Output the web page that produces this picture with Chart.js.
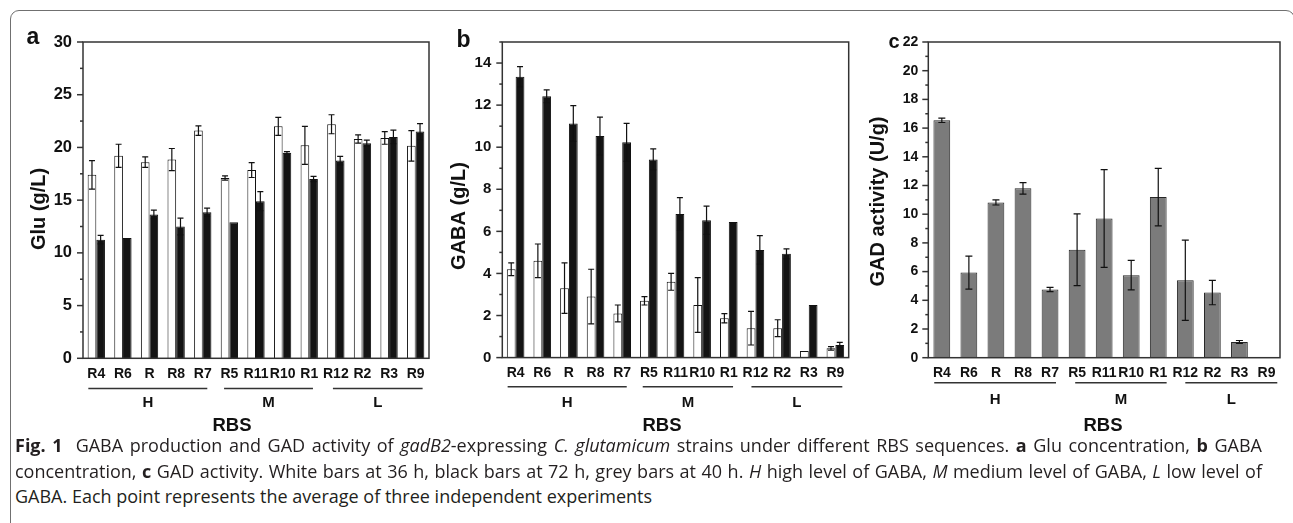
<!DOCTYPE html>
<html><head><meta charset="utf-8">
<script src="https://cdn.jsdelivr.net/npm/chart.js@4.4.0/dist/chart.umd.min.js"></script>
<style>
html,body{margin:0;padding:0;background:#fff;width:1293px;height:523px;overflow:hidden;position:relative;}
.frame{position:absolute;left:10px;top:10px;width:1285px;height:600px;border:1.5px solid #707070;border-radius:9px;box-sizing:border-box;}
.pane{position:absolute;top:0;}
.cap{position:absolute;left:15px;font-family:"Open Sans",sans-serif;font-size:18px;line-height:25px;color:#231f20;white-space:nowrap;}
.just{width:1247px;text-align:justify;text-align-last:justify;}
</style></head>
<body>
<div class="frame"></div>
<canvas id="ca" class="pane" style="left:0px" width="440" height="440"></canvas>
<canvas id="cb" class="pane" style="left:430px" width="430" height="440"></canvas>
<canvas id="cc" class="pane" style="left:860px" width="433" height="440"></canvas>
<div class="cap just" style="top:433px"><b>Fig. 1</b>&nbsp; GABA production and GAD activity of <i>gadB2</i>-expressing <i>C. glutamicum</i> strains under different RBS sequences. <b>a</b> Glu concentration, <b>b</b> GABA</div>
<div class="cap just" style="top:458.5px">concentration, <b>c</b> GAD activity. White bars at 36 h, black bars at 72 h, grey bars at 40 h. <i>H</i> high level of GABA, <i>M</i> medium level of GABA, <i>L</i> low level of</div>
<div class="cap" style="top:484px">GABA. Each point represents the average of three independent experiments</div>
<script>
// ---- data ----
const categories = ['R4','R6','R','R8','R7','R5','R11','R10','R1','R12','R2','R3','R9'];
const groupLabels = ['H','M','L'];
const groupFirst = [0,5,9];
const groupLast = [4,8,12];

const gluWhite    = [17.4, 19.2, 18.6, 18.85, 21.6, 17.1, 17.85, 22.0, 20.2, 22.2, 20.8, 20.9, 20.15];
const gluWhiteErr = [1.35, 1.1, 0.5, 1.05, 0.45, 0.2, 0.7, 0.85, 1.8, 0.9, 0.4, 0.6, 1.45];
const gluBlack    = [11.25, 11.4, 13.65, 12.5, 13.85, 12.9, 14.9, 19.5, 17.0, 18.75, 20.4, 21.0, 21.5];
const gluBlackErr = [0.4, 0, 0.4, 0.8, 0.4, 0, 0.9, 0.1, 0.25, 0.4, 0.3, 0.65, 0.75];

const gabaWhite    = [4.2, 4.6, 3.3, 2.9, 2.1, 2.7, 3.6, 2.5, 1.87, 1.4, 1.4, 0.31, 0.44];
const gabaWhiteErr = [0.3, 0.8, 1.2, 1.3, 0.4, 0.2, 0.4, 1.3, 0.22, 0.8, 0.4, 0, 0.08];
const gabaBlack    = [13.35, 12.42, 11.13, 10.53, 10.23, 9.42, 6.82, 6.53, 6.44, 5.12, 4.93, 2.5, 0.6];
const gabaBlackErr = [0.48, 0.3, 0.85, 0.9, 0.9, 0.5, 0.78, 0.67, 0, 0.68, 0.24, 0, 0.12];

const gadGrey    = [16.54, 5.93, 10.82, 11.8, 4.75, 7.52, 9.7, 5.75, 11.19, 5.4, 4.54, 1.1, 0];
const gadGreyErr = [0.15, 1.15, 0.18, 0.4, 0.15, 2.5, 3.4, 1.03, 2.0, 2.8, 0.85, 0.1, 0];

const gluTickLabels  = [0, 5, 10, 15, 20, 25, 30];
const gabaTickLabels = [0, 2, 4, 6, 8, 10, 12, 14];
const gadTickLabels  = [0, 2, 4, 6, 8, 10, 12, 14, 16, 18, 20, 22];

// ---- drawing ----
const FONT = '"Liberation Sans", Arial, Helvetica, sans-serif';
const INK = '#111';

const decor = {
  id: 'decor',
  afterDatasetsDraw(chart, args, o) {
    const ctx = chart.ctx, xs = chart.scales.x, ys = chart.scales.y, a = chart.chartArea;
    const L = o.pageLeft;
    ctx.save();
    // error bars
    ctx.strokeStyle = INK; ctx.lineWidth = 1.2;
    chart.data.datasets.forEach((ds, di) => {
      const meta = chart.getDatasetMeta(di);
      meta.data.forEach((bar, i) => {
        const e = ds.errors[i]; if (!e) return;
        const v = ds.data[i];
        const yt = ys.getPixelForValue(v + e), yb = ys.getPixelForValue(Math.max(0, v - e));
        ctx.beginPath();
        ctx.moveTo(bar.x, yt); ctx.lineTo(bar.x, yb);
        ctx.moveTo(bar.x - o.cap, yt); ctx.lineTo(bar.x + o.cap, yt);
        ctx.moveTo(bar.x - o.cap, yb); ctx.lineTo(bar.x + o.cap, yb);
        ctx.stroke();
      });
    });
    // frame
    ctx.strokeStyle = '#333'; ctx.lineWidth = 1.5;
    ctx.strokeRect(a.left, a.top, a.right - a.left, a.bottom - a.top);
    // y ticks (major/minor)
    ys.ticks.forEach(t => {
      const y = ys.getPixelForValue(t.value);
      const len = o.labels.includes(t.value) ? 6 : 3;
      ctx.beginPath(); ctx.moveTo(a.left - len, y); ctx.lineTo(a.left, y); ctx.stroke();
    });
    // groups
    const cw = xs.getPixelForValue(1) - xs.getPixelForValue(0);
    ctx.fillStyle = INK; ctx.textAlign = 'center'; ctx.textBaseline = 'middle';
    ctx.font = 'bold 15px ' + FONT;
    groupLabels.forEach((g, k) => {
      const x1 = xs.getPixelForValue(groupFirst[k]) + o.gpad[k][0] * cw;
      const x2 = xs.getPixelForValue(groupLast[k]) + o.gpad[k][1] * cw;
      ctx.beginPath(); ctx.moveTo(x1, o.gLineY); ctx.lineTo(x2, o.gLineY); ctx.stroke();
      ctx.fillText(g, (x1 + x2) / 2, o.gLabelY);
    });
    // x title
    ctx.font = 'bold 18.5px ' + FONT;
    ctx.fillText('RBS', o.rbsX - L, o.rbsY);
    // y title
    ctx.save();
    ctx.translate(o.yTitleX - L, o.yTitleY);
    ctx.rotate(-Math.PI / 2);
    ctx.font = 'bold 20px ' + FONT;
    ctx.fillText(o.yTitle, 0, 0);
    ctx.restore();
    // panel letter
    ctx.textAlign = 'left'; ctx.textBaseline = 'alphabetic';
    ctx.font = 'bold ' + o.letterSize + 'px ' + FONT;
    ctx.fillText(o.letter, o.letterX - L, o.letterY);
    ctx.restore();
  }
};

function makeChart(id, cfg) {
  const cv = document.getElementById(id);
  const W = cv.width, H = cv.height, L = cfg.pageLeft;
  return new Chart(cv, {
    type: 'bar',
    data: { labels: categories, datasets: cfg.datasets },
    options: {
      responsive: false, animation: false, devicePixelRatio: 1,
      layout: { padding: { top: cfg.area[1], right: W - (cfg.area[2] - L), left: 0, bottom: 0 } },
      plugins: { legend: { display: false }, tooltip: { enabled: false }, decor: cfg.decor },
      scales: {
        x: {
          grid: { display: false, drawTicks: false }, border: { display: false },
          ticks: { color: INK, font: { family: FONT, weight: 'bold', size: 14 }, padding: 7.5,
                   maxRotation: 0, minRotation: 0, autoSkip: false },
          afterFit(s) { s.height = H - cfg.area[3]; }
        },
        y: {
          min: 0, max: cfg.max,
          grid: { display: false, drawTicks: false }, border: { display: false },
          ticks: { stepSize: cfg.step, autoSkip: false, color: INK, padding: cfg.tickPad,
                   font: { family: FONT, weight: 'bold', size: cfg.tickSize },
                   callback: v => cfg.labels.includes(v) ? String(v) : '' },
          afterFit(s) { s.width = cfg.area[0] - L; }
        }
      }
    },
    plugins: [decor]
  });
}

const whiteStyle = { backgroundColor: '#ffffff', borderColor: INK, borderWidth: 1 };
const blackStyle = { backgroundColor: '#141414', borderColor: INK, borderWidth: 1 };
const greyStyle  = { backgroundColor: '#7b7b7b', borderColor: '#262626', borderWidth: 1 };

makeChart('ca', {
  pageLeft: 0, area: [83, 42, 429, 358.3], max: 30, step: 2.5, labels: gluTickLabels, tickPad: 11, tickSize: 16.5,
  datasets: [
    Object.assign({ data: gluWhite, errors: gluWhiteErr, categoryPercentage: 0.65, barPercentage: 1 }, whiteStyle),
    Object.assign({ data: gluBlack, errors: gluBlackErr, categoryPercentage: 0.65, barPercentage: 1 }, blackStyle)
  ],
  decor: { pageLeft: 0, labels: gluTickLabels, cap: 3, gpad: [[-0.3,0.17],[-0.2,0.14],[-0.11,0.26]],
           gLineY: 388.5, gLabelY: 402.5, rbsX: 232, rbsY: 426,
           yTitle: 'Glu (g/L)', yTitleX: 39, yTitleY: 209, letter: 'a', letterX: 26.5, letterY: 43.5, letterSize: 23 }
});

makeChart('cb', {
  pageLeft: 430, area: [502.3, 42, 848.7, 357.6], max: 15, step: 1, labels: gabaTickLabels, tickPad: 11, tickSize: 15,
  datasets: [
    Object.assign({ data: gabaWhite, errors: gabaWhiteErr, categoryPercentage: 0.66, barPercentage: 1 }, whiteStyle),
    Object.assign({ data: gabaBlack, errors: gabaBlackErr, categoryPercentage: 0.66, barPercentage: 1 }, blackStyle)
  ],
  decor: { pageLeft: 430, labels: gabaTickLabels, cap: 3, gpad: [[-0.3,0.17],[-0.23,0.16],[-0.15,0.26]],
           gLineY: 386.7, gLabelY: 402.5, rbsX: 662, rbsY: 426,
           yTitle: 'GABA (g/L)', yTitleX: 459, yTitleY: 216, letter: 'b', letterX: 456.5, letterY: 46.5, letterSize: 23 }
});

makeChart('cc', {
  pageLeft: 860, area: [928.3, 42, 1280, 357.7], max: 22, step: 1, labels: gadTickLabels, tickPad: 10, tickSize: 14,
  datasets: [
    Object.assign({ data: gadGrey, errors: gadGreyErr, categoryPercentage: 0.62, barPercentage: 1 }, greyStyle)
  ],
  decor: { pageLeft: 860, labels: gadTickLabels, cap: 3.5, gpad: [[-0.28,0.22],[-0.07,0.31],[0,0.4]],
           gLineY: 382.7, gLabelY: 400, rbsX: 1103, rbsY: 426,
           yTitle: 'GAD activity (U/g)', yTitleX: 878, yTitleY: 201.5, letter: 'c', letterX: 888.5, letterY: 48.3, letterSize: 20 }
});
</script>
</body></html>
